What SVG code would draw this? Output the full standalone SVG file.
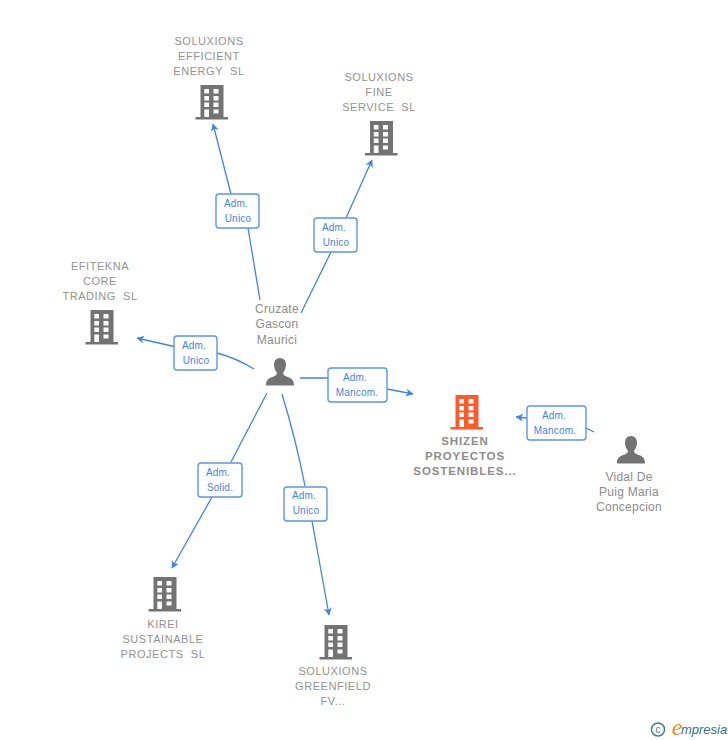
<svg xmlns="http://www.w3.org/2000/svg" width="728" height="740" viewBox="0 0 728 740">
<style>
text{font-family:"Liberation Sans",Arial,sans-serif;text-anchor:middle;white-space:pre}
.n{font-size:11px;fill:#929292;letter-spacing:.55px}
.p{font-size:12px;fill:#8c8c8c;letter-spacing:.25px}
.s{font-size:11.500px;fill:#8c8c8c;font-weight:bold;letter-spacing:.9px}
.l{font-size:10px;fill:#3f84e5;letter-spacing:.2px}
.c{fill:none;stroke:#3f84e5;stroke-width:1.300}
.b{fill:#fff;stroke:#5b97e8;stroke-width:1.400}
</style>
<defs>
<marker id="a" markerWidth="10" markerHeight="10" refX="7" refY="4.500" orient="auto" markerUnits="userSpaceOnUse"><path d="M0 0.500L7.500 4.500L0 8.500L2 4.500Z" fill="#3f84e5"/></marker>
<g id="bld"><path fill-rule="evenodd" d="M4.500 0H27.500V32H32V34.500H-0.500V32H4.500ZM8.300 4V8.500H13V4ZM17.500 4V8.500H22.500V4ZM8.300 11V15.500H13V11ZM17.500 11V15.500H22.500V11ZM8.300 17.500V22H13V17.500ZM17.500 17.500V22H22.500V17.500ZM8.300 24.500V32H13V24.500ZM17.500 24.500V28.500H22.500V24.500Z"/></g>
<path id="per" d="M14 0C10 0 8 3 8 7C8 10 9.500 13 11 15C11 17 9 18 5 19.500C1.500 21 0 23 0 27.500H28C28 23 26.500 21 23 19.500C19 18 17 17 17 15C18.500 13 20 10 20 7C20 3 18 0 14 0Z" fill="#737373"/>
</defs>
<g id="connectors">
<path class="c" d="M260 300L248 228M231 194L213 124" marker-end="url(#a)"/>
<path class="c" d="M301 313L331 252M346 218L372 160" marker-end="url(#a)"/>
<path class="c" d="M254 369Q236 358 217 353M174 346.500L137 338" marker-end="url(#a)"/>
<path class="c" d="M300 378H328M387 389L413 394" marker-end="url(#a)"/>
<path class="c" d="M267 393L231 462M212 497L172 568" marker-end="url(#a)"/>
<path class="c" d="M282 394Q296 440 305 486M312 521L329 615" marker-end="url(#a)"/>
<path class="c" d="M594 432L586 428M527 418L516 417" marker-end="url(#a)"/>
</g>
<g id="n1"><text class="n" x="209" y="45">SOLUXIONS</text><text class="n" x="209" y="60">EFFICIENT</text><text class="n" x="209" y="75">ENERGY  SL</text><use href="#bld" x="196" y="85" fill="#737373"/></g>
<g id="n2"><text class="n" x="379" y="81">SOLUXIONS</text><text class="n" x="379" y="96">FINE</text><text class="n" x="379" y="111">SERVICE  SL</text><use href="#bld" x="365.500" y="121" fill="#737373"/></g>
<g id="n3"><text class="n" x="100" y="270">EFITEKNA</text><text class="n" x="100" y="285">CORE</text><text class="n" x="100" y="300">TRADING  SL</text><use href="#bld" x="86" y="310" fill="#737373"/></g>
<g id="n4"><text class="p" x="277" y="313">Cruzate</text><text class="p" x="277" y="328">Gascon</text><text class="p" x="277" y="344">Maurici</text><use href="#per" x="266" y="358"/></g>
<g id="n5"><use href="#bld" x="451" y="395" fill="#ff5a2b"/><text class="s" x="465" y="445">SHIZEN</text><text class="s" x="465" y="460">PROYECTOS</text><text class="s" x="465" y="475">SOSTENIBLES...</text></g>
<g id="n6"><use href="#per" x="617" y="436"/><text class="p" x="629" y="481">Vidal De</text><text class="p" x="629" y="496">Puig Maria</text><text class="p" x="629" y="511">Concepcion</text></g>
<g id="n7"><use href="#bld" x="149" y="577" fill="#737373"/><text class="n" x="163" y="628">KIREI</text><text class="n" x="163" y="643">SUSTAINABLE</text><text class="n" x="163" y="658">PROJECTS  SL</text></g>
<g id="n8"><use href="#bld" x="320" y="625" fill="#737373"/><text class="n" x="333" y="675">SOLUXIONS</text><text class="n" x="333" y="690">GREENFIELD</text><text class="n" x="333" y="705">FV...</text></g>
<g id="labels">
<g id="l1"><rect class="b" x="216" y="194" width="43" height="34" rx="3"/><text class="l" x="236" y="207">Adm.</text><text class="l" x="238" y="222">Unico</text></g>
<g id="l2"><rect class="b" x="314" y="218" width="43" height="34" rx="3"/><text class="l" x="334" y="231">Adm.</text><text class="l" x="336" y="246">Unico</text></g>
<g id="l3"><rect class="b" x="174" y="336" width="43" height="34" rx="3"/><text class="l" x="194" y="349">Adm.</text><text class="l" x="196" y="364">Unico</text></g>
<g id="l4"><rect class="b" x="328" y="368" width="59" height="34" rx="3"/><text class="l" x="355" y="381">Adm.</text><text class="l" x="357" y="396">Mancom.</text></g>
<g id="l5"><rect class="b" x="527" y="406" width="59" height="34" rx="3"/><text class="l" x="554" y="419">Adm.</text><text class="l" x="555" y="434">Mancom.</text></g>
<g id="l6"><rect class="b" x="198" y="463" width="44" height="34" rx="3"/><text class="l" x="218" y="476">Adm.</text><text class="l" x="220" y="491">Solid.</text></g>
<g id="l7"><rect class="b" x="284" y="487" width="43" height="34" rx="3"/><text class="l" x="304" y="499">Adm.</text><text class="l" x="306" y="514">Unico</text></g>
</g>
<g id="logo"><circle cx="658" cy="729.500" r="6.500" fill="none" stroke="#3f7f96" stroke-width="1.500"/><text x="658" y="733" style="font-size:10px;fill:#3f7f96">c</text><text x="677" y="735" style="font-family:'Liberation Serif',serif;font-size:24px;font-style:italic;fill:#f08a1d">e</text><text x="704" y="734" style="font-family:'Liberation Sans',sans-serif;font-size:13px;font-style:italic;fill:#2f6f86">mpresia</text></g>
</svg>
